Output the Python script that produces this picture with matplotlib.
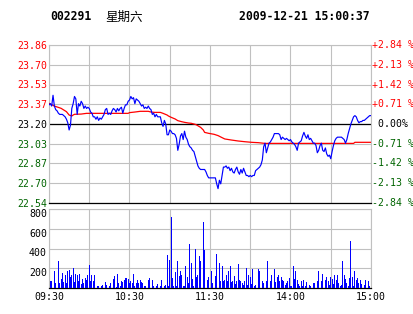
import matplotlib.pyplot as plt
from matplotlib import transforms
import numpy as np

plt.rcParams['font.family'] = ['DejaVu Sans Mono', 'Noto Sans CJK SC']

# ---------------------------------------------------------------------------
# Data (one point per trading minute, 09:30-15:00)
# ---------------------------------------------------------------------------
stock_code = "002291"
weekday = "星期六"
timestamp = "2009-12-21 15:00:37"

prev_close = 23.20
price_step = 0.165
price_labels = ["23.86", "23.70", "23.53", "23.37", "23.20",
                "23.03", "22.87", "22.70", "22.54"]
pct_labels = ["+2.84 %", "+2.13 %", "+1.42 %", "+0.71 %", " 0.00%",
              "-0.71 %", "-1.42 %", "-2.13 %", "-2.84 %"]
time_ticks = [0, 60, 120, 180, 240]
time_labels = ["09:30", "10:30", "11:30", "14:00", "15:00"]
vol_ticks = [200, 400, 600, 800]

prices = [
    23.36, 23.37, 23.35, 23.44, 23.35, 23.32, 23.31, 23.29, 23.28, 23.28,
    23.28, 23.27, 23.26, 23.24, 23.21, 23.15, 23.19, 23.33, 23.37, 23.43,
    23.41, 23.28, 23.37, 23.35, 23.39, 23.37, 23.33, 23.35, 23.33, 23.34,
    23.33, 23.30, 23.29, 23.26, 23.26, 23.24, 23.26, 23.23, 23.25, 23.24,
    23.26, 23.28, 23.32, 23.33, 23.28, 23.29, 23.28, 23.31, 23.33, 23.32,
    23.30, 23.33, 23.31, 23.33, 23.34, 23.29, 23.33, 23.36, 23.36, 23.39,
    23.40, 23.43, 23.41, 23.42, 23.37, 23.41, 23.40, 23.39, 23.37, 23.35,
    23.36, 23.33, 23.34, 23.33, 23.35, 23.33, 23.32, 23.28, 23.29, 23.26,
    23.28, 23.26, 23.26, 23.26, 23.21, 23.18, 23.23, 23.20, 23.11, 23.11,
    23.15, 23.14, 23.12, 23.12, 23.11, 23.08, 22.98, 23.03, 23.10, 23.12,
    23.07, 23.14, 23.09, 23.07, 23.03, 23.01, 23.00, 22.98, 22.97, 22.93,
    22.89, 22.85, 22.83, 22.82, 22.82, 22.82, 22.82, 22.80, 22.77, 22.75,
    22.75, 22.75, 22.75, 22.75, 22.75, 22.70, 22.66, 22.73, 22.70, 22.77,
    22.84, 22.84, 22.85, 22.83, 22.84, 22.81, 22.83, 22.80, 22.79, 22.82,
    22.84, 22.80, 22.78, 22.82, 22.79, 22.83, 22.80, 22.77, 22.77, 22.76,
    22.77, 22.76, 22.77, 22.77, 22.81, 22.82, 22.83, 22.84, 22.86, 22.90,
    23.01, 23.04, 22.96, 23.00, 23.04, 23.05, 23.07, 23.09, 23.12, 23.12,
    23.12, 23.12, 23.11, 23.07, 23.09, 23.08, 23.07, 23.08, 23.07, 23.06,
    23.07, 23.05, 23.04, 23.03, 23.01, 22.98, 23.04, 23.05, 23.06, 23.10,
    23.13, 23.10, 23.08, 23.11, 23.07, 23.08, 23.06, 23.04, 23.04, 23.02,
    22.96, 22.98, 23.02, 23.04, 22.98, 22.97, 23.00, 22.95, 22.93, 22.94,
    22.91, 22.97, 23.02, 23.06, 23.08, 23.09, 23.09, 23.09, 23.09, 23.08,
    23.07, 23.04, 23.07, 23.12, 23.16, 23.20, 23.23, 23.26, 23.27, 23.26,
    23.23, 23.21, 23.22, 23.22, 23.23, 23.23, 23.24, 23.25, 23.26, 23.27,
    23.27,
]

# average price line (minute, price)
avg_minutes = [0, 4, 9, 13, 15, 17, 18, 19, 24, 28, 37, 49, 59, 60, 64, 68,
               74, 76, 79, 83, 85, 88, 89, 91, 94, 96, 99, 101, 104, 106,
               109, 110, 113, 115, 116, 119, 123, 126, 129, 131, 136, 141,
               146, 151, 156, 161, 227, 228, 240]
avg_prices = [23.373, 23.350, 23.331, 23.303, 23.275, 23.267, 23.275, 23.281,
              23.283, 23.289, 23.289, 23.289, 23.289, 23.295, 23.300, 23.306,
              23.306, 23.300, 23.297, 23.297, 23.289, 23.275, 23.267, 23.256,
              23.242, 23.228, 23.219, 23.214, 23.208, 23.206, 23.197, 23.192,
              23.172, 23.150, 23.130, 23.122, 23.114, 23.103, 23.086, 23.075,
              23.066, 23.058, 23.052, 23.047, 23.044, 23.038, 23.038, 23.047,
              23.047]

volumes = [
    260, 68, 68, 84, 175, 50, 91, 277, 50, 95,
    152, 57, 135, 50, 169, 186, 108, 135, 203, 57,
    145, 135, 74, 145, 40, 95, 50, 101, 84, 135,
    236, 74, 128, 74, 128, 108, 24, 24, 17, 24,
    34, 50, 57, 34, 34, 24, 50, 74, 88, 118,
    10, 145, 50, 24, 68, 64, 84, 101, 101, 95,
    50, 68, 50, 145, 24, 50, 84, 50, 78, 57,
    50, 24, 24, 24, 84, 101, 135, 84, 24, 287,
    24, 40, 74, 24, 84, 118, 24, 34, 338, 24,
    287, 720, 101, 24, 162, 24, 270, 125, 169, 135,
    24, 24, 219, 111, 50, 449, 253, 95, 24, 395,
    111, 135, 320, 277, 186, 668, 388, 84, 84, 108,
    101, 175, 50, 196, 118, 348, 277, 253, 68, 226,
    68, 84, 128, 68, 175, 226, 57, 74, 118, 40,
    68, 246, 84, 74, 50, 34, 74, 203, 34, 128,
    108, 44, 192, 24, 34, 34, 196, 175, 74, 74,
    50, 74, 74, 277, 50, 68, 135, 84, 196, 61,
    111, 128, 68, 108, 84, 68, 34, 50, 68, 101,
    24, 24, 219, 95, 175, 84, 40, 24, 68, 24,
    84, 24, 57, 95, 34, 24, 34, 50, 50, 34,
    74, 169, 34, 68, 145, 68, 84, 108, 74, 34,
    111, 95, 44, 128, 84, 135, 50, 24, 34, 270,
    135, 95, 50, 24, 101, 479, 108, 24, 175, 84,
    101, 50, 84, 40, 186, 34, 84, 50, 68, 24,
    179,
]

GRID = '#C0C0C0'
GREEN = '#006400'
BLUE = '#0000FF'
RED = '#FF0000'
FS = 7.1

W, H = 414, 314
fig = plt.figure(figsize=(W / 100, H / 100), dpi=100)
fig.patch.set_facecolor('white')

ax = fig.add_axes([49 / W, 1 - 203 / H, 322 / W, 158 / H])
axv = fig.add_axes([49 / W, 1 - 288 / H, 322 / W, 79 / H])

minutes = np.arange(len(prices))
levels = prev_close + price_step * np.arange(4, -5, -1)

# ---------------------------------------------------------------------------
# Price panel
# ---------------------------------------------------------------------------
ax.set_xlim(0, 240)
ax.set_ylim(levels[-1], levels[0])
ax.set_xticks(np.arange(0, 241, 30))
ax.set_xticklabels([])
ax.set_yticks(levels)
ax.set_yticklabels(price_labels, fontsize=FS)
ax.tick_params(length=0, pad=1.5)
ax.grid(True, color=GRID, lw=0.8)
ax.set_axisbelow(True)
for side in ['left', 'right', 'top']:
    ax.spines[side].set_color(GRID)
    ax.spines[side].set_linewidth(0.8)
ax.spines['bottom'].set_color('black')
ax.spines['bottom'].set_linewidth(0.9)
ax.axhline(prev_close, color='black', lw=0.9, zorder=2)

def level_color(v):
    if abs(v - prev_close) < 1e-6:
        return 'black'
    return RED if v > prev_close else GREEN

for lab, v in zip(ax.get_yticklabels(), levels):
    lab.set_color(level_color(v))

trans = transforms.offset_copy(
    transforms.blended_transform_factory(ax.transAxes, ax.transData),
    fig=fig, x=1.0, y=0, units='dots')
for v, txt in zip(levels, pct_labels):
    ax.text(1.0, v, txt, transform=trans, ha='left', va='center',
            fontsize=FS, color=level_color(v), clip_on=False)

ax.plot(avg_minutes, avg_prices, color=RED, lw=0.9, zorder=3)
ax.plot(minutes, prices, color=BLUE, lw=0.85, zorder=4)

# ---------------------------------------------------------------------------
# Volume panel
# ---------------------------------------------------------------------------
axv.bar(minutes, volumes, width=0.65, color=BLUE, lw=0, zorder=3)
axv.set_xlim(0, 240)
axv.set_ylim(0, 800)
axv.set_xticks(np.arange(0, 241, 30), minor=True)
axv.set_xticks(time_ticks)
axv.set_xticklabels(time_labels, fontsize=FS)
axv.set_yticks(vol_ticks)
axv.set_yticklabels([str(v) for v in vol_ticks], fontsize=FS)
for lab in axv.get_yticklabels():
    lab.set_va('top')
axv.tick_params(which='both', length=0)
axv.tick_params(axis='y', pad=1.5)
axv.tick_params(axis='x', pad=3)
axv.grid(True, which='both', color=GRID, lw=0.8)
axv.set_axisbelow(True)
for side in ['left', 'right', 'top']:
    axv.spines[side].set_color(GRID)
    axv.spines[side].set_linewidth(0.8)
axv.spines['bottom'].set_color('black')
axv.spines['bottom'].set_linewidth(0.9)

# ---------------------------------------------------------------------------
# Header
# ---------------------------------------------------------------------------
fig.text(50 / W, 1 - 17 / H, stock_code, fontsize=8.3, weight='bold',
         ha='left', va='center')
fig.text(105 / W, 1 - 17 / H, weekday, fontsize=9,
         family=['Noto Sans CJK SC', 'DejaVu Sans'], ha='left', va='center')
fig.text(370 / W, 1 - 17 / H, timestamp, fontsize=8.3, weight='bold',
         ha='right', va='center')

plt.savefig('out.png', dpi=100)
plt.close()
